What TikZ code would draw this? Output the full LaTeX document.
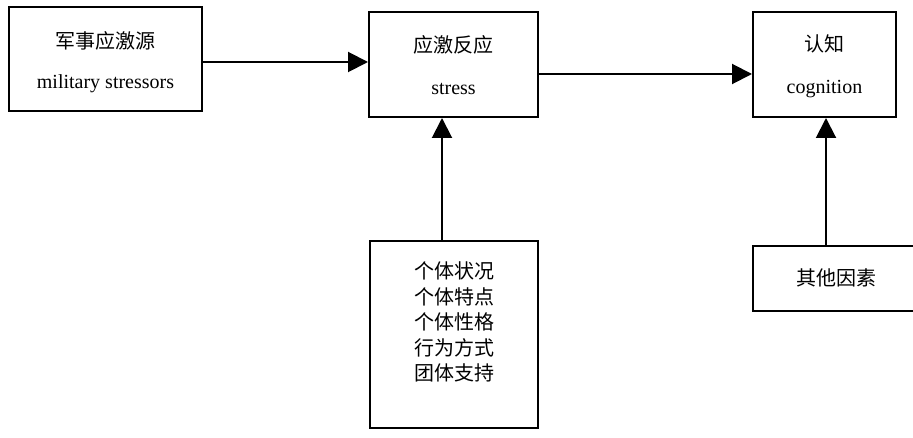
\documentclass[tikz,border=0pt]{standalone}
\usepackage{fontspec}
\setmainfont{Liberation Serif}
\newfontfamily\cjk{Noto Sans CJK SC}
\usetikzlibrary{arrows.meta}
\begin{document}
\begin{tikzpicture}[x=1pt,y=1pt,
  box/.style={draw=black,line width=2pt,inner sep=0pt,align=center},
  txt/.style={inner sep=0pt,align=center},
  arr/.style={line width=2pt,-{Triangle[length=20pt,width=20pt]}}]
\useasboundingbox (0,0) rectangle (913,437);
\clip (0,0) rectangle (913,437);
\node[box,minimum width=193,minimum height=104] (src) at (105.5,378) {};
\node[txt,font=\fontsize{20}{40}\selectfont] (srct) at (105.5,375) {{\cjk 军事应激源}\\military stressors};
\node[box,minimum width=169,minimum height=105] (str) at (453.5,372.5) {};
\node[txt,font=\fontsize{20}{42}\selectfont] (strt) at (453.5,372) {{\cjk 应激反应}\\stress};
\node[box,minimum width=143,minimum height=105] (cog) at (824.5,372.5) {};
\node[txt,font=\fontsize{20}{42}\selectfont] (cogt) at (824.5,370.5) {{\cjk 认知}\\cognition};
\node[box,minimum width=168,minimum height=187] (ind) at (454,102.5) {};
\node[txt,font=\fontsize{20}{25.5}\selectfont] (indt) at (454,115) {\cjk 个体状况\\\cjk 个体特点\\\cjk 个体性格\\\cjk 行为方式\\\cjk 团体支持};
\node[box,minimum width=167,minimum height=65] (oth) at (836.5,158.5) {};
\node[txt,font=\fontsize{20}{24}\selectfont] (otht) at (836.5,159) {\cjk 其他因素};
\coordinate (a1) at (202,375);
\coordinate (a2) at (538,363);
\coordinate (a3) at (442,196);
\coordinate (a4) at (826,191);
\draw[arr] (a1) -- (a1 -| str.west);
\draw[arr] (a2) -- (a2 -| cog.west);
\draw[arr] (a3 |- ind.north) -- (a3 |- str.south);
\draw[arr] (a4 |- oth.north) -- (a4 |- cog.south);
\end{tikzpicture}
\end{document}
